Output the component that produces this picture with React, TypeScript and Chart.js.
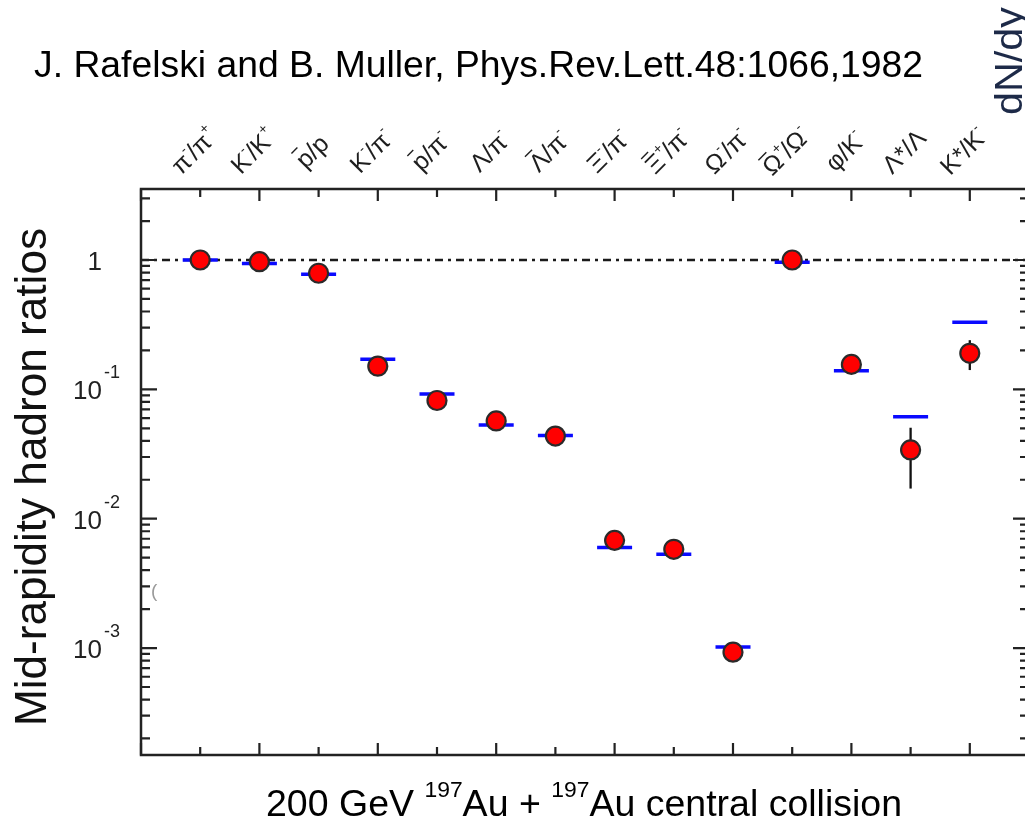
import React, { useEffect, useRef } from 'react';
import { Chart, registerables } from 'chart.js';

Chart.register(...registerables);

// ---------- data ----------
const CATEGORIES: string[] = [
  'π⁻/π⁺', 'K⁻/K⁺', 'p\u0304/p', 'K⁻/π⁻', 'p\u0304/π⁻', 'Λ/π⁻', 'Λ\u0304/π⁻',
  'Ξ⁻/π⁻', 'Ξ\u0304⁺/π⁻', 'Ω⁻/π⁻', 'Ω\u0304⁺/Ω⁻', 'φ/K⁻', 'Λ*/Λ', 'K*/K⁻',
];
// measured ratios (red points)
const DATA_VALUES: number[] = [
  1.0, 0.97, 0.79, 0.151, 0.082, 0.057, 0.0435, 0.0068, 0.0058, 0.00093, 1.0, 0.156, 0.034, 0.19,
];
// statistical-model values (blue bars)
const MODEL_VALUES: number[] = [
  1.0, 0.94, 0.775, 0.171, 0.092, 0.053, 0.044, 0.006, 0.0053, 0.00102, 0.96, 0.139, 0.0614, 0.33,
];
// error bars (only visible ones)
const ERR_LOW: (number | null)[] = [
  null, null, null, null, null, null, null, null, null, null, null, null, 0.0171, 0.141,
];
const ERR_HIGH: (number | null)[] = [
  null, null, null, null, null, null, null, null, null, null, null, null, 0.0505, 0.24,
];
const REFERENCE_LINE = 1;
const Y_TICK_VALUES: number[] = [1, 0.1, 0.01, 0.001];
const Y_TICK_BASES: string[] = ['1', '10', '10', '10'];
const Y_TICK_EXPONENTS: string[] = ['', '-1', '-2', '-3'];
const Y_MIN = 1.49e-4;
const Y_MAX = 3.54;
const X_MIN = -1;
const X_MAX = 14;

const TITLE = 'J. Rafelski and B. Muller, Phys.Rev.Lett.48:1066,1982';
const Y_TITLE = 'Mid-rapidity hadron ratios';
const CORNER_TEXT = 'dN/dy';

const FONT = '"Liberation Sans", Arial, Helvetica, sans-serif';

type Part = { t: string; size: number; dy?: number };

function drawRich(
  ctx: CanvasRenderingContext2D,
  parts: Part[],
  x: number,
  y: number,
  angle: number,
  targetLen: number | null,
  align: 'start' | 'center',
  color: string
) {
  ctx.save();
  ctx.fillStyle = color;
  ctx.textAlign = 'left';
  ctx.textBaseline = 'alphabetic';
  let total = 0;
  const ws = parts.map((p) => {
    ctx.font = `${p.size}px ${FONT}`;
    const w = ctx.measureText(p.t).width;
    total += w;
    return w;
  });
  const sx = targetLen ? targetLen / total : 1;
  ctx.translate(x, y);
  ctx.rotate(angle);
  ctx.scale(sx, 1);
  let cx = align === 'center' ? -total / 2 : 0;
  parts.forEach((p, i) => {
    ctx.font = `${p.size}px ${FONT}`;
    ctx.fillText(p.t, cx, p.dy || 0);
    cx += ws[i];
  });
  ctx.restore();
}

function drawCategory(
  ctx: CanvasRenderingContext2D,
  label: string,
  cx: number,
  cy: number,
  angle: number,
  size: number
) {
  type Seg = { t: string; sup: boolean; bar: boolean };
  const segs: Seg[] = [];
  for (const ch of Array.from(label)) {
    if (ch === '⁻') segs.push({ t: '-', sup: true, bar: false });
    else if (ch === '⁺') segs.push({ t: '+', sup: true, bar: false });
    else if (ch === '\u0304') {
      if (segs.length) segs[segs.length - 1].bar = true;
    } else segs.push({ t: ch, sup: false, bar: false });
  }
  const supSize = Math.round(size * 0.55);
  let total = 0;
  const ws = segs.map((s) => {
    ctx.font = `${s.sup ? supSize : size}px ${FONT}`;
    const w = ctx.measureText(s.t).width * (s.sup ? 0.8 : 1);
    total += w;
    return w;
  });
  ctx.save();
  ctx.fillStyle = '#1e1e1e';
  ctx.strokeStyle = '#1e1e1e';
  ctx.lineWidth = 1.4;
  ctx.textAlign = 'left';
  ctx.textBaseline = 'alphabetic';
  ctx.translate(cx, cy);
  ctx.rotate(angle);
  let x = -total / 2;
  const base = size * 0.36;
  segs.forEach((s, i) => {
    ctx.font = `${s.sup ? supSize : size}px ${FONT}`;
    const yy = s.sup ? base - size * 0.5 : base;
    ctx.fillText(s.t, x, yy);
    if (s.bar) {
      const by = base - size * 0.86;
      ctx.beginPath();
      ctx.moveTo(x + ws[i] * 0.1, by);
      ctx.lineTo(x + ws[i] * 0.7, by);
      ctx.stroke();
    }
    x += ws[i];
  });
  ctx.restore();
}

const decorPlugin = {
  id: 'decor',
  beforeDatasetsDraw(chart: any) {
    const { ctx, chartArea: a, scales } = chart;
    const xs = scales.x;
    const ys = scales.y;
    ctx.save();
    const y1 = ys.getPixelForValue(REFERENCE_LINE);
    ctx.strokeStyle = '#1a1a1a';
    ctx.lineWidth = 2.5;
    ctx.setLineDash([8, 5, 3, 5]);
    ctx.beginPath();
    ctx.moveTo(a.left, y1);
    ctx.lineTo(a.right, y1);
    ctx.stroke();
    ctx.setLineDash([]);
    ctx.strokeStyle = '#111';
    ctx.lineWidth = 2.3;
    ERR_LOW.forEach((lo, i) => {
      const hi = ERR_HIGH[i];
      if (lo == null || hi == null) return;
      const px = xs.getPixelForValue(i);
      ctx.beginPath();
      ctx.moveTo(px, ys.getPixelForValue(hi));
      ctx.lineTo(px, ys.getPixelForValue(lo));
      ctx.stroke();
    });
    ctx.restore();
  },
  afterDatasetsDraw(chart: any) {
    const { ctx, chartArea: a, scales } = chart;
    const xs = scales.x;
    const ys = scales.y;
    ctx.save();
    ctx.strokeStyle = '#222';
    ctx.lineWidth = 2.5;
    ctx.strokeRect(a.left, a.top, a.right - a.left, a.bottom - a.top);
    ctx.lineWidth = 2.2;
    ctx.beginPath();
    // x ticks (inside, alternating long/short)
    for (let i = X_MIN; i <= X_MAX; i++) {
      const px = xs.getPixelForValue(i);
      const len = i % 2 !== 0 ? 12 : 8;
      ctx.moveTo(px, a.bottom);
      ctx.lineTo(px, a.bottom - len);
      ctx.moveTo(px, a.top);
      ctx.lineTo(px, a.top + len);
    }
    // y ticks (log, inside)
    for (let k = -4; k <= 0; k++) {
      for (let d = 1; d <= 9; d++) {
        const v = d * Math.pow(10, k);
        if (v < Y_MIN || v > Y_MAX) continue;
        const py = ys.getPixelForValue(v);
        const len = d === 1 ? 16 : 9;
        ctx.moveTo(a.left, py);
        ctx.lineTo(a.left + len, py);
        ctx.moveTo(a.right, py);
        ctx.lineTo(a.right - len, py);
      }
    }
    ctx.stroke();
    ctx.restore();
  },
  afterDraw(chart: any) {
    const { ctx, scales } = chart;
    const xs = scales.x;
    const ys = scales.y;
    // title
    drawRich(ctx, [{ t: TITLE, size: 36 }], 34, 77, 0, 889, 'start', '#000');
    // y title
    drawRich(ctx, [{ t: Y_TITLE, size: 44 }], 46, 726, -Math.PI / 2, 498, 'start', '#111');
    // y tick labels
    Y_TICK_VALUES.forEach((v, i) => {
      const py = ys.getPixelForValue(v);
      ctx.save();
      ctx.fillStyle = '#222';
      ctx.textBaseline = 'alphabetic';
      ctx.textAlign = 'right';
      ctx.font = `26px ${FONT}`;
      ctx.fillText(Y_TICK_BASES[i], 102, py + 10);
      if (Y_TICK_EXPONENTS[i]) {
        ctx.textAlign = 'left';
        ctx.font = `18px ${FONT}`;
        ctx.fillText(Y_TICK_EXPONENTS[i], 104, py - 11);
      }
      ctx.restore();
    });
    // category labels at top
    CATEGORIES.forEach((c, i) => {
      const px = xs.getPixelForValue(i);
      drawCategory(ctx, c, px - 7, 151, -Math.PI / 4, 25);
    });
    // bottom label
    drawRich(
      ctx,
      [
        { t: '200 GeV ', size: 36 },
        { t: '197', size: 22, dy: -19 },
        { t: 'Au + ', size: 36 },
        { t: '197', size: 22, dy: -19 },
        { t: 'Au central collision', size: 36 },
      ],
      266,
      816,
      0,
      636,
      'start',
      '#000'
    );
    // corner text
    drawRich(ctx, [{ t: CORNER_TEXT, size: 38 }], 1022, 115, -Math.PI / 2, 108, 'start', '#1d2a48');
    // faint artifact
    ctx.save();
    ctx.fillStyle = '#9a9a9a';
    ctx.font = `19px ${FONT}`;
    ctx.fillText('(', 151, 597);
    ctx.restore();
  },
};

export default function App() {
  const ref = useRef<HTMLCanvasElement>(null);
  useEffect(() => {
    if (!ref.current) return;
    const chart = new Chart(ref.current, {
      type: 'scatter',
      data: {
        datasets: [
          {
            label: 'Data',
            data: DATA_VALUES.map((v, i) => ({ x: i, y: v })),
            pointRadius: 9.5,
            pointBorderWidth: 2.2,
            pointBackgroundColor: '#ff0000',
            pointBorderColor: '#2a2a2a',
            backgroundColor: '#ff0000',
            borderColor: '#2a2a2a',
            order: 0,
          },
          {
            label: 'Model',
            data: MODEL_VALUES.map((v, i) => ({ x: i, y: v })),
            pointStyle: 'line',
            pointRadius: 17.5,
            pointBorderWidth: 3.5,
            pointBorderColor: '#0a0aff',
            borderColor: '#0a0aff',
            backgroundColor: '#0a0aff',
            order: 1,
          },
        ],
      },
      options: {
        animation: false,
        responsive: false,
        maintainAspectRatio: false,
        layout: { autoPadding: false, padding: { left: 141, right: 11, top: 189, bottom: 70 } },
        plugins: {
          legend: { display: false },
          tooltip: { enabled: false },
          title: { display: false },
        },
        scales: {
          x: { type: 'linear', min: X_MIN, max: X_MAX, display: false },
          y: { type: 'logarithmic', min: Y_MIN, max: Y_MAX, display: false },
        },
      },
      plugins: [decorPlugin],
    } as any);
    return () => chart.destroy();
  }, []);
  return (
    <div
      style={{
        position: 'absolute',
        left: 0,
        top: 0,
        width: 1025,
        height: 825,
        overflow: 'hidden',
        background: '#fff',
      }}
    >
      <canvas ref={ref} width={1040} height={825} style={{ width: 1040, height: 825, display: 'block' }} />
    </div>
  );
}
